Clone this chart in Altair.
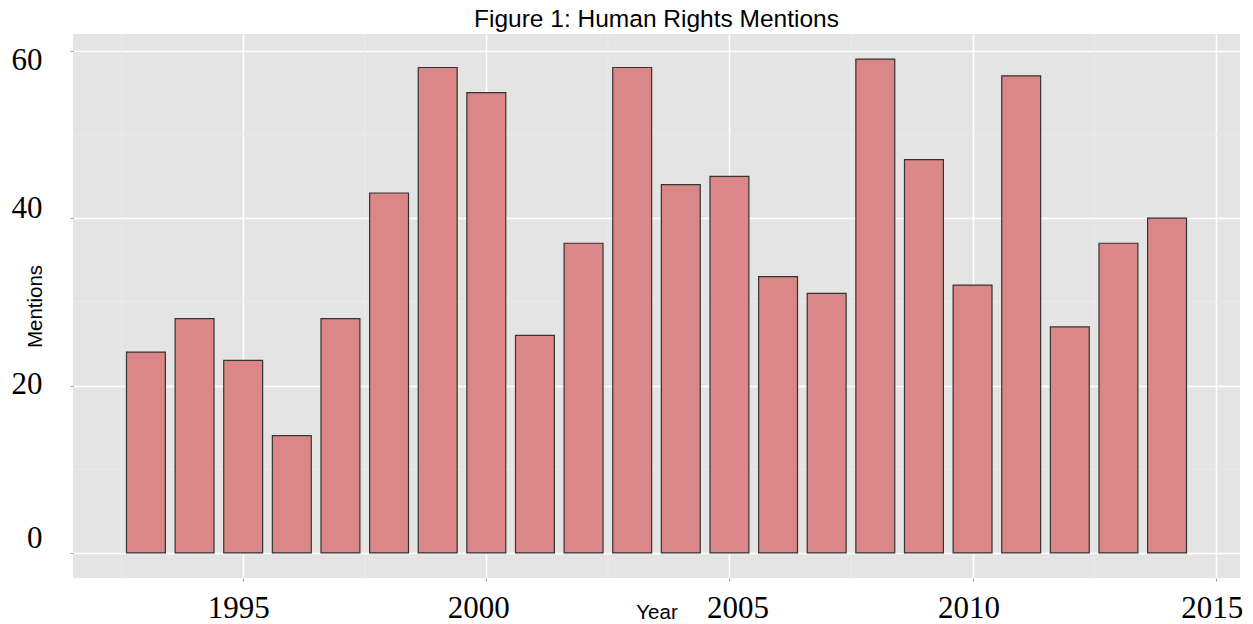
import altair as alt
import pandas as pd

# ---- data ----
years = [1993, 1994, 1995, 1996, 1997, 1998, 1999, 2000, 2001, 2002, 2003,
         2004, 2005, 2006, 2007, 2008, 2009, 2010, 2011, 2012, 2013, 2014]
mentions = [24, 28, 23, 14, 28, 43, 58, 55, 26, 37, 58,
            44, 45, 33, 31, 59, 47, 32, 57, 27, 37, 40]

x_ticks = [1995, 2000, 2005, 2010, 2015]
y_ticks = [0, 20, 40, 60]
x_minor = [1992.5, 1997.5, 2002.5, 2007.5, 2012.5]
y_minor = [10, 30, 50]

df = pd.DataFrame({"Year": years, "Mentions": mentions})
xminor_df = pd.DataFrame({"v": x_minor})
yminor_df = pd.DataFrame({"v": y_minor})

BG = "#E4E4E4"
MINOR = "#EBEBEB"
BAR = "#DC8787"

xscale = alt.Scale(domain=[1991.5, 2015.5], nice=False, zero=False)
yscale = alt.Scale(domain=[-3, 62], nice=False, zero=False)

x_axis = alt.Axis(
    values=x_ticks, format="d", title="Year",
    labelFont="Liberation Serif", labelFontSize=31, labelColor="black",
    labelPadding=12, labelBaseline="top",
    labelOffset={"condition": [
        {"test": "datum.value == 1995", "value": -5},
        {"test": "datum.value == 2000", "value": -8},
        {"test": "datum.value == 2005", "value": 8},
        {"test": "datum.value == 2010", "value": -4},
        {"test": "datum.value == 2015", "value": -4}], "value": 0},
    titleFont="Liberation Sans", titleFontSize=20.5, titleFontWeight="normal",
    titleColor="black", titleBaseline="middle", titleY=34,
    grid=True, gridColor="white", gridWidth=1.5,
    domain=False, tickSize=3, tickColor="#9A9A9A",
)
y_axis = alt.Axis(
    values=y_ticks, title="Mentions",
    labelFont="Liberation Serif", labelFontSize=31, labelColor="black",
    labelPadding=28,
    labelOffset={"condition": [
        {"test": "datum.value == 60", "value": 10},
        {"test": "datum.value == 40", "value": -10},
        {"test": "datum.value == 20", "value": -1},
        {"test": "datum.value == 0", "value": -14}], "value": 0},
    titleFont="Liberation Sans", titleFontSize=20.5, titleFontWeight="normal",
    titleColor="black", titleBaseline="middle", titleX=-38, titleY=272,
    titleAlign="center", titleAngle=270,
    grid=True, gridColor="white", gridWidth=1.5,
    domain=False, tickSize=3, tickColor="#9A9A9A",
)

minor_v = alt.Chart(xminor_df).mark_rule(color=MINOR, strokeWidth=1).encode(
    x=alt.X("v:Q", scale=xscale, axis=x_axis)
)
minor_h = alt.Chart(yminor_df).mark_rule(color=MINOR, strokeWidth=1).encode(
    y=alt.Y("v:Q", scale=yscale, axis=y_axis)
)

bars = alt.Chart(df).transform_calculate(
    x0="datum.Year - 0.4", x1="datum.Year + 0.4", base="0"
).mark_bar(color=BAR, stroke="#333333", strokeWidth=1.2).encode(
    x=alt.X("x0:Q", scale=xscale, axis=x_axis),
    x2="x1:Q",
    y=alt.Y("Mentions:Q", scale=yscale, axis=y_axis),
    y2="base:Q",
)

chart = alt.layer(minor_v, minor_h, bars).properties(
    width=1167, height=544,
    autosize=alt.AutoSizeParams(type="none"),
    padding={"left": 65, "top": 26, "right": 5, "bottom": 46},
    title=alt.TitleParams(
        "Figure 1: Human Rights Mentions",
        font="Liberation Sans", fontSize=24.5, fontWeight="normal",
        color="black", anchor="middle", offset=1.5,
    ),
).configure(
    background="white",
    view=alt.ViewConfig(fill=BG, stroke=None),
)

chart.save("out.html", embed_options={"renderer": "svg", "actions": False})
